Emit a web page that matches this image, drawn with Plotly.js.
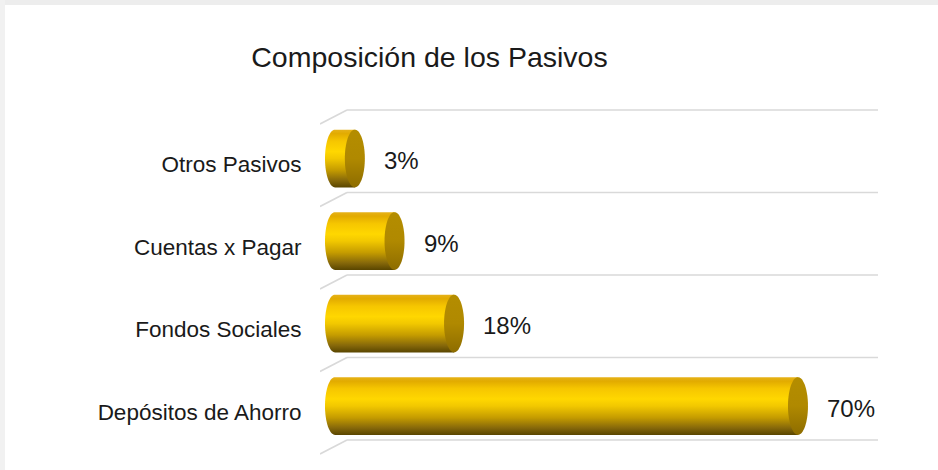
<!DOCTYPE html>
<html>
<head>
<meta charset="utf-8">
<script src="https://cdn.plot.ly/plotly-3.0.1.min.js"></script>
<style>html,body{margin:0;padding:0;background:#fff;}#chart{width:938px;height:470px;}</style>
</head>
<body>
<div id="chart"></div>
<script>
// ---- data ----
const categories = ['Depósitos de Ahorro', 'Fondos Sociales', 'Cuentas x Pagar', 'Otros Pasivos'];
const values = [70, 18, 9, 3];
const valueLabels = ['70%', '18%', '9%', '3%'];
const chartTitle = 'Composición de los Pasivos';

// ---- geometry / style constants ----
const W = 938, H = 470, L = 320, R = 60, T = 100, B = 10;
const pxPerUnitX = 6.614;           // pixels per percent
const zeroPx = 335;                 // pixel position of 0
const pxPerUnitY = 82.5;
const row0Px = 406;                 // pixel centre of first category
const xMin = -(zeroPx - L) / pxPerUnitX;
const xMax = (W - R - zeroPx) / pxPerUnitX;
const yMin = -(H - B - row0Px) / pxPerUnitY;
const yMax = (row0Px - T) / pxPerUnitY;
const capA = 10 / pxPerUnitX;       // ellipse half width (data units)
const capH = 0.35;                  // cylinder half height (data units)
const font = 'Liberation Sans, Arial, sans-serif';

const bodyScale = [
  [0, '#5a4600'], [0.12, '#86680a'], [0.3, '#c59c00'], [0.5, '#f2c800'],
  [0.62, '#ffd700'], [0.8, '#f6c600'], [0.93, '#e2ab00'], [1, '#e6b21a']
];
const capScale = [[0, '#8d6c00'], [0.5, '#b08900'], [1, '#b48d00']];

const traces = [];
const N = 40;
values.forEach((v, i) => {
  const bx = [v, 0], by = [i + capH, i + capH];
  for (let k = 0; k <= N; k++) {
    const t = Math.PI / 2 + Math.PI * k / N;
    bx.push(capA * Math.cos(t));
    by.push(i + capH * Math.sin(t));
  }
  bx.push(v); by.push(i - capH);
  traces.push({
    type: 'scatter', mode: 'none', x: bx, y: by, fill: 'toself',
    fillgradient: {type: 'vertical', start: i - capH, stop: i + capH, colorscale: bodyScale},
    hoverinfo: 'skip', showlegend: false
  });
  const cx = [], cy = [];
  for (let k = 0; k <= 2 * N; k++) {
    const t = 2 * Math.PI * k / (2 * N);
    cx.push(v + capA * Math.cos(t));
    cy.push(i + capH * Math.sin(t));
  }
  traces.push({
    type: 'scatter', mode: 'none', x: cx, y: cy, fill: 'toself',
    fillgradient: {type: 'vertical', start: i - capH, stop: i + capH, colorscale: capScale},
    hoverinfo: 'skip', showlegend: false
  });
});

// back-wall grid lines with perspective floor edge
const depthX = (347 - zeroPx) / pxPerUnitX;
const depthY = 14 / pxPerUnitY;
const shapes = [];
for (let k = 0; k <= categories.length; k++) {
  const yb = k - 0.412;
  const line = {color: '#d9d9d9', width: 1.6};
  shapes.push({type: 'line', xref: 'x', yref: 'y', x0: xMin, y0: yb - depthY, x1: depthX, y1: yb, line, layer: 'below'});
  shapes.push({type: 'line', xref: 'x', yref: 'y', x0: depthX, y0: yb, x1: xMax, y1: yb, line, layer: 'below'});
}
// light frame on top/left edges
const px2x = p => (p - L) / (W - L - R);
const px2y = p => (H - B - p) / (H - T - B);
shapes.push({type: 'rect', xref: 'paper', yref: 'paper', x0: px2x(0), x1: px2x(W), y0: px2y(0), y1: px2y(5), fillcolor: '#ededed', line: {width: 0}, layer: 'below'});
shapes.push({type: 'rect', xref: 'paper', yref: 'paper', x0: px2x(0), x1: px2x(5), y0: px2y(0), y1: px2y(H), fillcolor: '#f1f1f1', line: {width: 0}, layer: 'below'});

const annotations = values.map((v, i) => ({
  x: v, y: i - 0.03, xref: 'x', yref: 'y', text: valueLabels[i], showarrow: false,
  xanchor: 'left', yanchor: 'middle', xshift: 10 + 17,
  font: {family: font, size: 24, color: '#1a1a1a'}
}));

const layout = {
  width: W, height: H,
  margin: {l: L, r: R, t: T, b: B, pad: 0},
  paper_bgcolor: '#ffffff', plot_bgcolor: 'rgba(0,0,0,0)',
  title: {
    text: chartTitle, xref: 'container', yref: 'container',
    x: 429.5 / W, xanchor: 'center', y: 1 - 57 / H, yanchor: 'middle',
    font: {family: font, size: 28.5, color: '#1a1a1a'}
  },
  xaxis: {range: [xMin, xMax], showgrid: false, zeroline: false, showticklabels: false, showline: false, fixedrange: true},
  yaxis: {
    range: [yMin, yMax], showgrid: false, zeroline: false, showline: false, fixedrange: true,
    tickvals: categories.map((c, i) => i - 0.07), ticktext: categories,
    ticks: 'outside', ticklen: 13, tickcolor: 'rgba(0,0,0,0)',
    tickfont: {family: font, size: 22.5, color: '#1a1a1a'}
  },
  shapes, annotations, showlegend: false
};

Plotly.newPlot('chart', traces, layout, {displayModeBar: false, staticPlot: true});
</script>
</body>
</html>
